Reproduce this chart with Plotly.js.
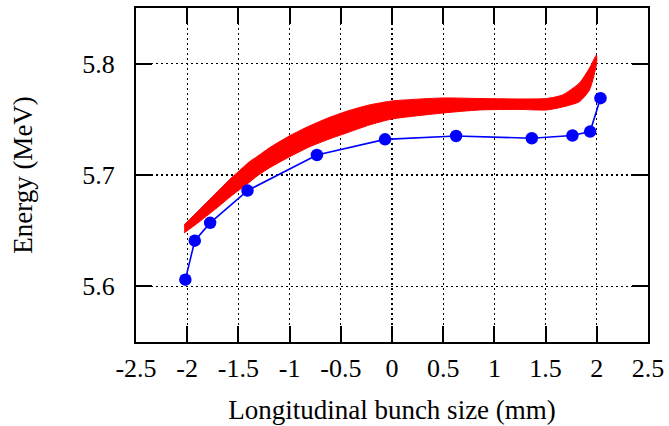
<!DOCTYPE html>
<html>
<head>
<meta charset="utf-8">
<script src="https://cdn.plot.ly/plotly-3.0.1.min.js"></script>
<style>
  html, body { margin: 0; padding: 0; background: #fff; }
  #chart { width: 669px; height: 426px; }
</style>
</head>
<body>
<div id="chart"></div>
<script>
// Particle bunch: upper and lower envelope of the energy spread
const bunchX      = [-2.03, -1.884, -1.688, -1.571, -1.493, -1.395, -1.317, -1.199, -1.004, -0.808, -0.613, -0.417, -0.222, 0.0, 0.5, 0.853, 1.244, 1.508, 1.665, 1.831, 1.929, 1.997];
const bunchTop    = [5.6551, 5.6686, 5.6865, 5.6973, 5.7036, 5.7117, 5.7166, 5.7243, 5.7350, 5.7440, 5.7517, 5.7580, 5.7629, 5.7665, 5.7692, 5.7687, 5.7683, 5.7687, 5.7719, 5.7827, 5.7961, 5.8078];
const bunchBottom = [5.6479, 5.6578, 5.6721, 5.6811, 5.6865, 5.6933, 5.6991, 5.7063, 5.7162, 5.7252, 5.7323, 5.7386, 5.7449, 5.7503, 5.7557, 5.7584, 5.7589, 5.7584, 5.7611, 5.7659, 5.7764, 5.7997];

// Sampled energy along the bunch
const sampleX = [-2.018, -1.926, -1.776, -1.411, -0.733, -0.068, 0.626, 1.365, 1.762, 1.935, 2.036];
const sampleY = [5.606, 5.641, 5.657, 5.686, 5.718, 5.732, 5.735, 5.733, 5.7355, 5.739, 5.769];

// Axis ticks
const xTickVals = [-2.5, -2, -1.5, -1, -0.5, 0, 0.5, 1, 1.5, 2, 2.5];
const xTickText = ["-2.5", "-2", "-1.5", "-1", "-0.5", "0", "0.5", "1", "1.5", "2", "2.5"];
const yTickVals = [5.6, 5.7, 5.8];
const yTickText = ["5.6", "5.7", "5.8"];

// Closed outline of the band: top edge forward, bottom edge back
const bandX = bunchX.concat(bunchX.slice().reverse());
const bandY = bunchTop.concat(bunchBottom.slice().reverse());

const serif = "'Liberation Serif', 'Times New Roman', Times, serif";

const traces = [
  {
    x: bandX, y: bandY,
    type: "scatter", mode: "lines",
    fill: "toself", fillcolor: "#ff0000",
    line: { color: "#ff0000", width: 1, shape: "spline", smoothing: 0.6 },
    hoverinfo: "skip", showlegend: false
  },
  {
    x: sampleX, y: sampleY,
    type: "scatter", mode: "lines+markers",
    line: { color: "#0000ff", width: 1.6 },
    marker: { color: "#0000ff", size: 12.5 },
    showlegend: false
  }
];

const axisCommon = {
  showline: true, linecolor: "#000", linewidth: 2, mirror: "ticks",
  ticks: "inside", ticklen: 16, tickwidth: 2, tickcolor: "#000",
  showgrid: true, gridcolor: "#000", gridwidth: 1.2, griddash: "2px,3px",
  zeroline: false,
  tickfont: { family: serif, size: 26, color: "#000" }
};

const layout = {
  width: 669, height: 426,
  margin: { l: 136, r: 21, t: 8, b: 84 },
  paper_bgcolor: "#fff", plot_bgcolor: "#fff",
  font: { family: serif, color: "#000" },
  xaxis: Object.assign({}, axisCommon, {
    range: [-2.5, 2.5],
    tickmode: "array", tickvals: xTickVals, ticktext: xTickText,
    ticklabelstandoff: 2,
    title: { text: "Longitudinal bunch size (mm)", font: { family: serif, size: 27, color: "#000" }, standoff: 18 }
  }),
  yaxis: Object.assign({}, axisCommon, {
    range: [5.55, 5.85],
    tickmode: "array", tickvals: yTickVals, ticktext: yTickText,
    ticklabelstandoff: 14,
    title: { text: "Energy (MeV)", font: { family: serif, size: 27, color: "#000" }, standoff: 42 }
  })
};

Plotly.newPlot("chart", traces, layout, { displayModeBar: false, staticPlot: true });
</script>
</body>
</html>
